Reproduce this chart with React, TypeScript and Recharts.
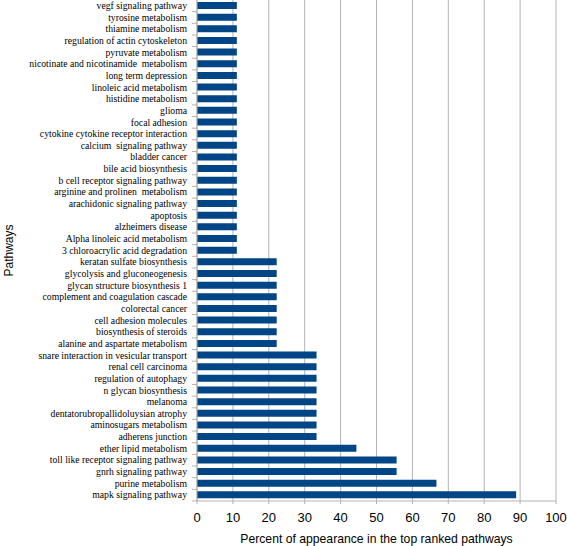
import React from 'react';
import { BarChart, Bar, XAxis, YAxis, CartesianGrid } from 'recharts';

const pathways: string[] = [
  'vegf signaling pathway',
  'tyrosine metabolism',
  'thiamine metabolism',
  'regulation of actin cytoskeleton',
  'pyruvate metabolism',
  'nicotinate and nicotinamide  metabolism',
  'long term depression',
  'linoleic acid metabolism',
  'histidine metabolism',
  'glioma',
  'focal adhesion',
  'cytokine cytokine receptor interaction',
  'calcium  signaling pathway',
  'bladder cancer',
  'bile acid biosynthesis',
  'b cell receptor signaling pathway',
  'arginine and prolinen  metabolism',
  'arachidonic signaling pathway',
  'apoptosis',
  'alzheimers disease',
  'Alpha linoleic acid metabolism',
  '3 chloroacrylic acid degradation',
  'keratan sulfate biosynthesis',
  'glycolysis and gluconeogenesis',
  'glycan structure biosynthesis 1',
  'complement and coagulation cascade',
  'colorectal cancer',
  'cell adhesion molecules',
  'biosynthesis of steroids',
  'alanine and aspartate metabolism',
  'snare interaction in vesicular transport',
  'renal cell carcinoma',
  'regulation of autophagy',
  'n glycan biosynthesis',
  'melanoma',
  'dentatorubropallidoluysian atrophy',
  'aminosugars metabolism',
  'adherens junction',
  'ether lipid metabolism',
  'toll like receptor signaling pathway',
  'gnrh signaling pathway',
  'purine metabolism',
  'mapk signaling pathway',
];

const percents: number[] = [
  11.1, 11.1, 11.1, 11.1, 11.1, 11.1, 11.1, 11.1, 11.1, 11.1, 11.1,
  11.1, 11.1, 11.1, 11.1, 11.1, 11.1, 11.1, 11.1, 11.1, 11.1, 11.1,
  22.2, 22.2, 22.2, 22.2, 22.2, 22.2, 22.2, 22.2,
  33.3, 33.3, 33.3, 33.3, 33.3, 33.3, 33.3, 33.3,
  44.4, 55.6, 55.6, 66.7, 88.9,
];

const xTicks: number[] = [0, 10, 20, 30, 40, 50, 60, 70, 80, 90, 100];

const data = pathways.map((name, i) => ({ name, value: percents[i] }));

const W = 567;
const H = 546;
const MARGIN = { top: 0, right: 11, bottom: 0, left: 0 };
const X_AXIS_H = 45;
const Y_AXIS_W = 197;
const PLOT_H = H - MARGIN.top - MARGIN.bottom - X_AXIS_H;
const BAND = PLOT_H / pathways.length;
const GREY = '#b3b3b3';

const YTick = (props: any) => {
  const { x, y, payload } = props;
  return (
    <g>
      <line x1={x - 5} x2={x} y1={y + BAND / 2} y2={y + BAND / 2} stroke={GREY} strokeWidth={1} />
      <text
        x={x - 10}
        y={y}
        dy="0.33em"
        textAnchor="end"
        fontFamily="'Liberation Serif', serif"
        fontSize={9.7}
        fill="#000"
        style={{ whiteSpace: 'pre' }}
      >
        {payload.value}
      </text>
    </g>
  );
};

export default function App() {
  return (
    <div style={{ position: 'absolute', left: 0, top: 0, width: W, height: H, background: '#fff' }}>
      <BarChart width={W} height={H} data={data} layout="vertical" margin={MARGIN} barSize={7}>
        <CartesianGrid horizontal={false} vertical stroke={GREY} strokeWidth={1} />
        <XAxis
          type="number"
          domain={[0, 100]}
          ticks={xTicks}
          height={X_AXIS_H}
          axisLine={{ stroke: GREY }}
          tickLine={{ stroke: GREY }}
          tickSize={3}
          tickMargin={9}
          tick={{ fontSize: 13, fill: '#000', fontFamily: "'Liberation Sans', Arial, sans-serif" }}
          label={{
            value: 'Percent of appearance in the top ranked pathways',
            position: 'insideBottom',
            offset: 3,
            fontSize: 12.2,
            fill: '#000',
            fontFamily: "'Liberation Sans', Arial, sans-serif",
          }}
        />
        <YAxis
          type="category"
          dataKey="name"
          width={Y_AXIS_W}
          interval={0}
          axisLine={{ stroke: GREY }}
          tickLine={false}
          tickSize={0}
          tickMargin={0}
          tick={<YTick />}
          label={{
            value: 'Pathways',
            angle: -90,
            position: 'insideLeft',
            offset: 9,
            fontSize: 12,
            fill: '#000',
            fontFamily: "'Liberation Sans', Arial, sans-serif",
            style: { textAnchor: 'middle' },
          }}
        />
        <Bar dataKey="value" fill="#004586" isAnimationActive={false} />
      </BarChart>
    </div>
  );
}
